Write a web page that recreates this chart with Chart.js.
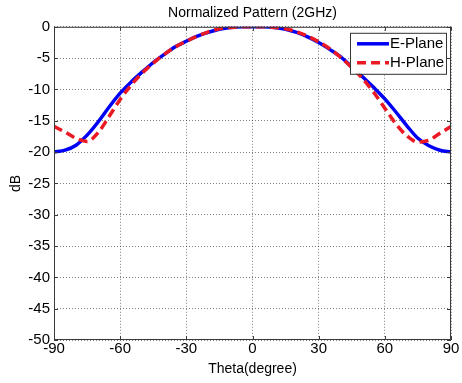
<!DOCTYPE html>
<html>
<head>
<meta charset="utf-8">
<script src="https://cdn.jsdelivr.net/npm/chart.js@4/dist/chart.umd.min.js"></script>
<style>
  html, body { margin: 0; padding: 0; background: #fff; }
  #wrap { width: 462px; height: 383px; }
</style>
</head>
<body>
<div id="wrap"><canvas id="chart" width="462" height="383"></canvas></div>
<script>
// angles (deg) and normalized gain (dB)
const theta = [-90, -85, -80, -75, -70, -65, -60, -55, -50, -45, -40, -35, -30, -25, -20, -15, -10, -5, 0,
  5, 10, 15, 20, 25, 30, 35, 40, 45, 50, 55, 60, 65, 70, 75, 80, 85, 90];
const ePlane = [-20.0, -19.7, -18.9, -17.3, -15.2, -12.8, -10.6, -8.8, -7.2, -5.7, -4.4, -3.2, -2.3, -1.5, -0.9, -0.4, -0.1, 0, 0,
  0, -0.1, -0.4, -0.9, -1.6, -2.5, -3.6, -4.8, -6.4, -8.0, -9.7, -11.5, -13.6, -15.8, -17.8, -19.0, -19.7, -20.0];
const hPlane = [-15.9, -16.8, -17.8, -18.3, -16.9, -14.3, -11.6, -9.3, -7.4, -5.8, -4.4, -3.2, -2.3, -1.5, -0.8, -0.3, -0.1, 0, 0,
  0, -0.1, -0.3, -0.8, -1.5, -2.4, -3.5, -4.9, -6.5, -8.3, -10.5, -13.0, -15.5, -17.4, -18.4, -18.1, -17.0, -15.9];
const xTicks = [-90, -60, -30, 0, 30, 60, 90];
const yTicks = [-50, -45, -40, -35, -30, -25, -20, -15, -10, -5, 0];

Chart.defaults.font.family = "'Liberation Sans', Arial, sans-serif";
Chart.defaults.color = '#000';

const toPoints = ys => theta.map((t, i) => ({ x: t, y: ys[i] }));

// matlab style box, inward ticks and legend
const frame = {
  id: 'frame',
  afterDraw(chart) {
    const { ctx, chartArea: a, scales } = chart;
    ctx.save();
    ctx.strokeStyle = '#3a3a3a';
    ctx.lineWidth = 1;
    ctx.strokeRect(a.left + 0.5, a.top + 0.5, a.right - a.left - 1, a.bottom - a.top - 1);
    ctx.beginPath();
    scales.x.ticks.forEach(t => {
      const px = Math.round(scales.x.getPixelForValue(t.value)) + 0.5;
      ctx.moveTo(px, a.bottom); ctx.lineTo(px, a.bottom - 4);
      ctx.moveTo(px, a.top); ctx.lineTo(px, a.top + 4);
    });
    scales.y.ticks.forEach(t => {
      const py = Math.round(scales.y.getPixelForValue(t.value)) + 0.5;
      ctx.moveTo(a.left, py); ctx.lineTo(a.left + 4, py);
      ctx.moveTo(a.right, py); ctx.lineTo(a.right - 4, py);
    });
    ctx.stroke();

    // legend
    const w = 96, h = 41;
    const lx = a.right - w - 5, ly = a.top + 6;
    ctx.fillStyle = '#fff';
    ctx.fillRect(lx, ly, w, h);
    ctx.strokeStyle = '#333';
    ctx.strokeRect(lx + 0.5, ly + 0.5, w, h);
    ctx.font = "15px 'Liberation Sans', Arial, sans-serif";
    ctx.textBaseline = 'middle';
    chart.data.datasets.forEach((ds, i) => {
      const y = ly + 11 + i * 19;
      ctx.strokeStyle = ds.borderColor;
      ctx.lineWidth = ds.borderWidth;
      ctx.setLineDash(ds.borderDash || []);
      ctx.beginPath();
      ctx.moveTo(lx + 7, y); ctx.lineTo(lx + 39, y);
      ctx.stroke();
      ctx.setLineDash([]);
      ctx.fillStyle = '#000';
      ctx.fillText(ds.label, lx + 40, y);
    });
    ctx.restore();
  }
};

new Chart(document.getElementById('chart'), {
  type: 'line',
  data: {
    datasets: [
      {
        label: 'E-Plane',
        data: toPoints(ePlane),
        borderColor: 'rgb(0,0,245)',
        borderWidth: 3.5,
        pointRadius: 0,
        cubicInterpolationMode: 'monotone',
        order: 2
      },
      {
        label: 'H-Plane',
        data: toPoints(hPlane),
        borderColor: 'rgb(235,25,35)',
        borderWidth: 3.5,
        borderDash: [9, 5],
        pointRadius: 0,
        cubicInterpolationMode: 'monotone',
        order: 1
      }
    ]
  },
  options: {
    responsive: false,
    animation: false,
    layout: { padding: { top: 0, right: 11, left: 0, bottom: 0 } },
    plugins: {
      legend: { display: false },
      tooltip: { enabled: false },
      title: {
        display: true,
        text: 'Normalized Pattern (2GHz)',
        fullSize: false,
        color: '#000',
        font: { size: 14, weight: 'normal' },
        padding: { top: 5, bottom: 5 }
      }
    },
    scales: {
      x: {
        type: 'linear',
        min: -90,
        max: 90,
        afterBuildTicks: s => { s.ticks = xTicks.map(value => ({ value })); },
        afterFit: s => { s.height = 43; },
        ticks: { color: '#000', font: { size: 15 }, padding: 0, maxRotation: 0, autoSkip: false },
        grid: { color: 'rgba(0,0,0,0.5)', drawTicks: false, lineWidth: 1 },
        border: { display: false, dash: [1, 2] },
        title: { display: true, text: 'Theta(degree)', color: '#000', font: { size: 14 }, padding: { top: 0, bottom: 5 } }
      },
      y: {
        min: -50,
        max: 0,
        afterBuildTicks: s => { s.ticks = yTicks.map(value => ({ value })); },
        afterFit: s => { s.width = 54; },
        ticks: { color: '#000', font: { size: 15 }, padding: 4, autoSkip: false },
        grid: { color: 'rgba(0,0,0,0.5)', drawTicks: false, lineWidth: 1 },
        border: { display: false, dash: [1, 2] },
        title: { display: true, text: 'dB', color: '#000', font: { size: 14 }, padding: { top: 8, bottom: 0 } }
      }
    }
  },
  plugins: [frame]
});
</script>
</body>
</html>
